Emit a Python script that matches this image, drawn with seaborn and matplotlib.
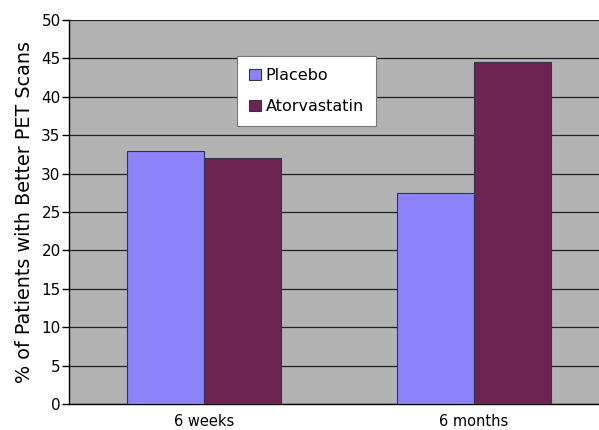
import matplotlib
matplotlib.use("Agg")
import matplotlib.pyplot as plt
import seaborn as sns
import pandas as pd
from matplotlib.patches import Patch

categories = ["6 weeks", "6 months"]
series = ["Placebo", "Atorvastatin"]
placebo = [33.0, 27.5]
atorvastatin = [32.0, 44.5]
yticks = [0, 5, 10, 15, 20, 25, 30, 35, 40, 45, 50]

df = pd.DataFrame({
    "time": categories * 2,
    "group": [series[0]] * 2 + [series[1]] * 2,
    "value": placebo + atorvastatin,
})

colors = {"Placebo": "#8c82fa", "Atorvastatin": "#6e2450"}

sns.set_style("white")
plt.rcParams['font.family'] = ['DejaVu Sans']
plt.rcParams['text.color'] = 'black'
plt.rcParams['axes.labelcolor'] = 'black'
plt.rcParams['xtick.color'] = 'black'
plt.rcParams['ytick.color'] = 'black'

fig = plt.figure(figsize=(5.99, 4.30), dpi=100)
ax = fig.add_axes([69/599, 1 - 404/430, 540/599, 384/430])
ax.set_facecolor("#b3b3b3")

sns.barplot(data=df, x="time", y="value", hue="group", order=categories,
            hue_order=series, palette=colors, width=0.57, ax=ax, saturation=1,
            edgecolor="#333355", linewidth=0.8, legend=False, zorder=3)

ax.set_ylim(0, 50)
ax.set_xlim(-0.5, 1.5)
ax.set_yticks(yticks)
ax.set_yticklabels([str(t) for t in yticks], fontsize=11)
ax.yaxis.grid(True, color="#222222", linewidth=0.9, zorder=0)
ax.set_axisbelow(True)
ax.tick_params(axis="y", direction="out", length=5, width=1, color="black", labelcolor="black", pad=1, left=True)
ax.tick_params(axis="x", which="major", length=0, labelsize=10.5, labelcolor="black", pad=7)
ax.set_xticks([0.5], minor=True)
ax.tick_params(axis="x", which="minor", direction="out", length=4, width=1, color="black")
ax.set_xlabel("")
ax.set_ylabel("% of Patients with Better PET Scans", fontsize=13.8, labelpad=5, color="black")

for s in ["top", "right"]:
    ax.spines[s].set_visible(False)
ax.spines["left"].set_color("black")
ax.spines["bottom"].set_color("black")
ax.spines["left"].set_linewidth(1)
ax.spines["bottom"].set_linewidth(1)

handles = [Patch(facecolor=colors[s], edgecolor="#333355", linewidth=0.8) for s in series]
leg = ax.legend(handles, series, loc="upper left", bbox_to_anchor=((237-69)/540, 1 - (56-20)/384),
                frameon=True, fancybox=False, fontsize=11.5, handlelength=0.75, handleheight=0.75,
                handletextpad=0.3, labelspacing=1.0, borderpad=0.75, borderaxespad=0,
                framealpha=1, facecolor="white", labelcolor="black")
leg.get_frame().set_edgecolor("#777777")
leg.get_frame().set_linewidth(0.8)
leg.set_zorder(5)

fig.savefig("out.png", dpi=100)
